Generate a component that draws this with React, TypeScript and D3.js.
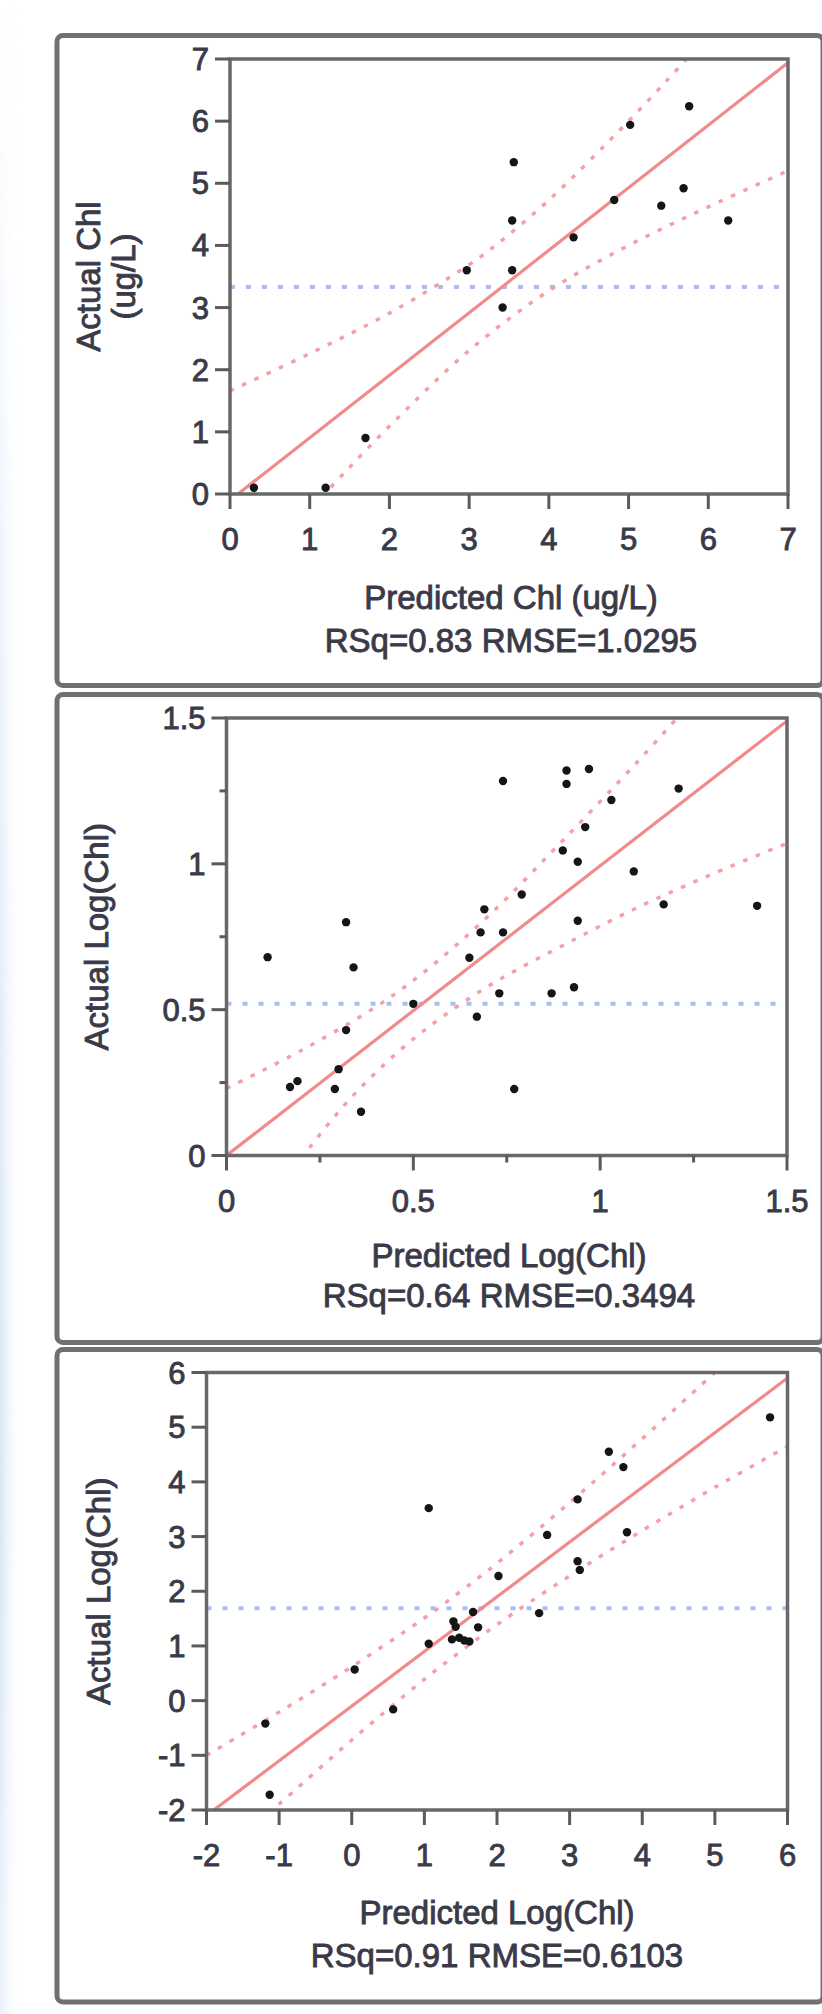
import React from "react";
import * as d3 from "d3";

type Pt = [number, number];

// ---------- Panel 1: Chl (ug/L) ----------
const chlPredicted = [0.3, 1.2, 1.7, 2.97, 3.42, 3.54, 3.54, 3.56, 4.31, 4.82, 5.02, 5.41, 5.69, 5.76, 6.25];
const chlActual = [0.1, 0.1, 0.9, 3.6, 3.0, 3.6, 4.4, 5.34, 4.13, 4.73, 5.94, 4.64, 4.92, 6.24, 4.4];
const chlFit: Pt[] = [[0.1, 0], [7, 6.94]];
const chlUpper: Pt[] = [[0, 1.66], [1, 2.26], [2, 2.91], [3, 3.69], [3.35, 4.02], [4, 4.73], [5, 6.0], [5.5, 6.68], [5.8, 7.1]];
const chlLower: Pt[] = [[1.15, -0.05], [1.5, 0.43], [2, 1.09], [3, 2.31], [4, 3.27], [5, 4.0], [6, 4.62], [7, 5.2]];
const chlMean = 3.33;
const chlTicks = [0, 1, 2, 3, 4, 5, 6, 7];

// ---------- Panel 2: Log(Chl) ----------
const logPredicted = [0.11, 0.17, 0.19, 0.32, 0.34, 0.32, 0.3, 0.29, 0.36, 0.5, 0.65, 0.67, 0.69, 0.68, 0.74, 0.74, 0.73, 0.79, 0.77, 0.87, 0.9, 0.91, 0.91, 0.93, 0.94, 0.94, 0.96, 0.97, 1.03, 1.09, 1.17, 1.21, 1.42];
const logActual = [0.68, 0.235, 0.255, 0.8, 0.645, 0.43, 0.296, 0.228, 0.15, 0.52, 0.678, 0.476, 0.844, 0.765, 0.765, 1.284, 0.556, 0.895, 0.228, 0.556, 1.046, 1.32, 1.274, 0.577, 1.007, 0.805, 1.126, 1.325, 1.219, 0.974, 0.861, 1.258, 0.856];
const logFit: Pt[] = [[0, 0], [1.5, 1.49]];
const logUpper: Pt[] = [[0, 0.23], [0.2, 0.36], [0.4, 0.51], [0.52, 0.62], [0.7, 0.82], [0.9, 1.08], [1.1, 1.35], [1.22, 1.52]];
const logLower: Pt[] = [[0.2, -0.01], [0.3, 0.15], [0.4, 0.285], [0.52, 0.42], [0.7, 0.58], [0.9, 0.72], [1.1, 0.85], [1.3, 0.965], [1.5, 1.07]];
const logMean = 0.52;
const logTicks = [0, 0.5, 1, 1.5];
const logMinorTicks = [0.25, 0.75, 1.25];

// ---------- Panel 3: Log(Chl), wider range ----------
const log3Predicted = [-1.19, -1.13, 0.04, 0.57, 1.06, 1.06, 1.4, 1.43, 1.38, 1.48, 1.55, 1.62, 1.67, 1.74, 2.02, 2.58, 2.69, 3.11, 3.11, 3.14, 3.54, 3.74, 3.79, 5.76];
const log3Actual = [-0.42, -1.72, 0.57, -0.16, 3.52, 1.04, 1.45, 1.35, 1.12, 1.15, 1.1, 1.08, 1.62, 1.34, 2.28, 1.6, 3.03, 3.68, 2.55, 2.39, 4.55, 4.27, 3.08, 5.18];
const log3Fit: Pt[] = [[-1.9, -2], [6, 5.9]];
const log3Upper: Pt[] = [[-2, -1.0], [-1, -0.21], [0, 0.62], [1, 1.51], [1.5, 2.0], [2, 2.51], [3, 3.62], [4, 4.79], [5, 6.0], [5.1, 6.12]];
const log3Lower: Pt[] = [[-1.15, -2.05], [-1, -1.89], [0, -0.72], [1, 0.39], [1.5, 0.9], [2, 1.39], [3, 2.28], [4, 3.11], [5, 3.9], [6, 4.65]];
const log3Mean = 1.69;
const log3Ticks = [-2, -1, 0, 1, 2, 3, 4, 5, 6];

const FONT = '"Liberation Sans", Arial, Helvetica, sans-serif';
const TEXT = "#3a3a48";

interface PanelCfg {
  id: string;
  frameTop: number;
  frameBottom: number;
  left: number;
  right: number;
  top: number;
  bottom: number;
  xDomain: [number, number];
  yDomain: [number, number];
  xTicks: number[];
  yTicks: number[];
  minor?: number[];
  predicted: number[];
  actual: number[];
  fit: Pt[];
  upper: Pt[];
  lower: Pt[];
  mean: number;
  xTitle: string;
  yTitle: string[];
  yTitleX: number[];
  stats: string;
  titleCenter: number;
  titleOffset: number;
  statsOffset: number;
}

const panels: PanelCfg[] = [
  {
    id: "p1", frameTop: 35.5, frameBottom: 685.5,
    left: 230, right: 788, top: 59, bottom: 494,
    xDomain: [0, 7], yDomain: [0, 7], xTicks: chlTicks, yTicks: chlTicks,
    predicted: chlPredicted, actual: chlActual, fit: chlFit, upper: chlUpper, lower: chlLower, mean: chlMean,
    xTitle: "Predicted Chl (ug/L)", yTitle: ["Actual Chl", "(ug/L)"], yTitleX: [88, 123],
    stats: "RSq=0.83 RMSE=1.0295", titleCenter: 511, titleOffset: 115, statsOffset: 158,
  },
  {
    id: "p2", frameTop: 694.5, frameBottom: 1342.5,
    left: 226.5, right: 787, top: 718, bottom: 1155.5,
    xDomain: [0, 1.5], yDomain: [0, 1.5], xTicks: logTicks, yTicks: logTicks, minor: logMinorTicks,
    predicted: logPredicted, actual: logActual, fit: logFit, upper: logUpper, lower: logLower, mean: logMean,
    xTitle: "Predicted Log(Chl)", yTitle: ["Actual Log(Chl)"], yTitleX: [96],
    stats: "RSq=0.64 RMSE=0.3494", titleCenter: 509, titleOffset: 111, statsOffset: 151,
  },
  {
    id: "p3", frameTop: 1349.5, frameBottom: 2002,
    left: 206.5, right: 787.5, top: 1372.5, bottom: 1810,
    xDomain: [-2, 6], yDomain: [-2, 6], xTicks: log3Ticks, yTicks: log3Ticks,
    predicted: log3Predicted, actual: log3Actual, fit: log3Fit, upper: log3Upper, lower: log3Lower, mean: log3Mean,
    xTitle: "Predicted Log(Chl)", yTitle: ["Actual Log(Chl)"], yTitleX: [98],
    stats: "RSq=0.91 RMSE=0.6103", titleCenter: 497, titleOffset: 114, statsOffset: 157,
  },
];

function Panel({ c }: { c: PanelCfg }) {
  const x = d3.scaleLinear().domain(c.xDomain).range([c.left, c.right]);
  const y = d3.scaleLinear().domain(c.yDomain).range([c.bottom, c.top]);
  const straight = d3.line<Pt>().x((d) => x(d[0])).y((d) => y(d[1]));
  const smooth = d3
    .line<Pt>()
    .x((d) => x(d[0]))
    .y((d) => y(d[1]))
    .curve(d3.curveCatmullRom.alpha(0.5));
  const pts = c.predicted.map((p, i) => [p, c.actual[i]] as Pt);
  const majorLen = 15;
  const minorLen = 7;
  const axisColor = "#5a5a5a";
  const tickFont = 31;
  const titleFont = 33;
  const cy = (c.top + c.bottom) / 2;
  const textProps = {
    fontFamily: FONT,
    fill: TEXT,
    stroke: TEXT,
    strokeWidth: 0.9,
  };
  return (
    <g>
      <rect
        x={57}
        y={c.frameTop}
        width={766}
        height={c.frameBottom - c.frameTop}
        rx={6}
        fill="none"
        stroke="#707070"
        strokeWidth={5}
      />
      <clipPath id={`clip-${c.id}`}>
        <rect x={c.left} y={c.top} width={c.right - c.left} height={c.bottom - c.top} />
      </clipPath>
      <g clipPath={`url(#clip-${c.id})`}>
        <line
          x1={c.left}
          x2={c.right}
          y1={y(c.mean)}
          y2={y(c.mean)}
          stroke="#a9bff4"
          strokeWidth={4}
          strokeDasharray="5 11"
        />
        <path d={smooth(c.upper) || ""} fill="none" stroke="#f5a0a8" strokeWidth={3.5} strokeDasharray="4.5 9" />
        <path d={smooth(c.lower) || ""} fill="none" stroke="#f5a0a8" strokeWidth={3.5} strokeDasharray="4.5 9" />
        <path d={straight(c.fit) || ""} fill="none" stroke="#f28a8c" strokeWidth={3.2} />
      </g>
      {pts.map((d, i) => (
        <circle key={i} cx={x(d[0])} cy={y(d[1])} r={4.2} fill="#151515" />
      ))}
      <rect
        x={c.left}
        y={c.top}
        width={c.right - c.left}
        height={c.bottom - c.top}
        fill="none"
        stroke="#686868"
        strokeWidth={3.5}
      />
      {c.xTicks.map((t) => (
        <g key={`xt${t}`}>
          <line x1={x(t)} x2={x(t)} y1={c.bottom} y2={c.bottom + majorLen} stroke={axisColor} strokeWidth={3} />
          <text x={x(t)} y={c.bottom + 56} textAnchor="middle" fontSize={tickFont} {...textProps}>
            {String(t)}
          </text>
        </g>
      ))}
      {c.yTicks.map((t) => (
        <g key={`yt${t}`}>
          <line x1={c.left - majorLen} x2={c.left} y1={y(t)} y2={y(t)} stroke={axisColor} strokeWidth={3} />
          <text x={c.left - 21} y={y(t) + 11} textAnchor="end" fontSize={tickFont} {...textProps}>
            {String(t)}
          </text>
        </g>
      ))}
      {(c.minor || []).map((t) => (
        <g key={`mt${t}`}>
          <line x1={x(t)} x2={x(t)} y1={c.bottom} y2={c.bottom + minorLen} stroke={axisColor} strokeWidth={3} />
          <line x1={c.left - minorLen} x2={c.left} y1={y(t)} y2={y(t)} stroke={axisColor} strokeWidth={3} />
        </g>
      ))}
      <text x={c.titleCenter} y={c.bottom + c.titleOffset} textAnchor="middle" fontSize={titleFont} {...textProps}>
        {c.xTitle}
      </text>
      <text x={c.titleCenter} y={c.bottom + c.statsOffset} textAnchor="middle" fontSize={titleFont} {...textProps}>
        {c.stats}
      </text>
      {c.yTitle.map((s, i) => (
        <text
          key={s}
          transform={`translate(${c.yTitleX[i]},${cy}) rotate(-90)`}
          dy="0.35em"
          textAnchor="middle"
          fontSize={titleFont}
          {...textProps}
        >
          {s}
        </text>
      ))}
    </g>
  );
}

export default function App() {
  return (
    <svg
      width={822}
      height={2014}
      viewBox="0 0 822 2014"
      style={{ position: "absolute", left: 0, top: 0, background: "#fff" }}
    >
      <defs>
        <linearGradient id="edge" x1="0" x2="1" y1="0" y2="0">
          <stop offset="0" stopColor="#d6e4f5" />
          <stop offset="1" stopColor="#ffffff" stopOpacity={0} />
        </linearGradient>
        <linearGradient id="edgeMask" x1="0" x2="0" y1="0" y2="1">
          <stop offset="0" stopColor="#fff" stopOpacity={0} />
          <stop offset="0.4" stopColor="#fff" stopOpacity={0.6} />
          <stop offset="0.75" stopColor="#fff" stopOpacity={1} />
          <stop offset="1" stopColor="#fff" stopOpacity={0.5} />
        </linearGradient>
        <mask id="edgeM">
          <rect x={0} y={0} width={30} height={2014} fill="url(#edgeMask)" />
        </mask>
      </defs>
      <rect x={0} y={0} width={822} height={2014} fill="#ffffff" />
      <rect x={0} y={0} width={22} height={2014} fill="url(#edge)" mask="url(#edgeM)" />
      {panels.map((p) => (
        <Panel key={p.id} c={p} />
      ))}
    </svg>
  );
}
